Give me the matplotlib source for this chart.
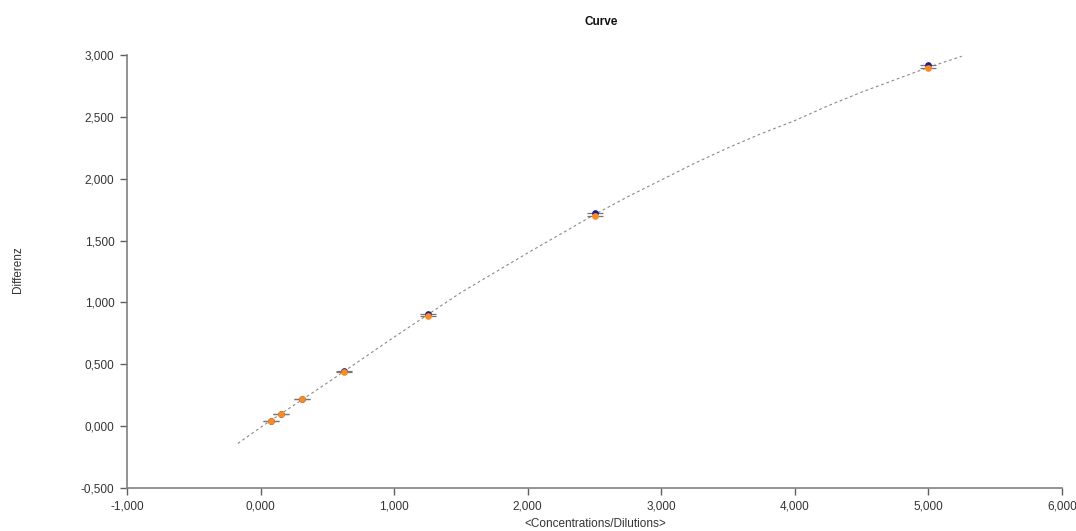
import matplotlib
matplotlib.use("Agg")
import matplotlib.pyplot as plt

plt.rcParams['font.family'] = ['Liberation Sans', 'DejaVu Sans']

# Data
conc = [0.078, 0.156, 0.3125, 0.625, 1.25, 2.5, 5.0]
rep_blue = [0.045, 0.100, 0.220, 0.445, 0.910, 1.726, 2.920]
rep_orange = [0.043, 0.098, 0.218, 0.440, 0.890, 1.700, 2.897]

curve_x = [-0.17, 0.0, 0.25, 0.5, 0.75, 1.0, 1.25, 1.5, 1.75, 2.0, 2.25, 2.5, 2.75,
           3.0, 3.25, 3.5, 3.75, 4.0, 4.25, 4.5, 4.75, 5.0, 5.25]
curve_y = [-0.14, -0.01, 0.17, 0.35, 0.535, 0.72, 0.90, 1.08, 1.24, 1.40, 1.555, 1.71, 1.855,
           1.99, 2.125, 2.25, 2.365, 2.47, 2.59, 2.70, 2.80, 2.90, 2.99]

xticks = [-1.0, 0.0, 1.0, 2.0, 3.0, 4.0, 5.0, 6.0]
yticks = [-0.5, 0.0, 0.5, 1.0, 1.5, 2.0, 2.5, 3.0]

def fmt(v):
    return f"{v:.3f}".replace(".", ",")

fig = plt.figure(figsize=(10.76, 5.31), dpi=100)
ax = fig.add_axes([127/1076, 1 - 488/531, (1062 - 127)/1076, (488 - 55)/531])

ax.plot(curve_x, curve_y, color='#8a8a8a', lw=0.8, ls=(0, (2.5, 2.5)), zorder=1)

lo = [min(a, b) for a, b in zip(rep_blue, rep_orange)]
hi = [max(a, b) for a, b in zip(rep_blue, rep_orange)]
mid = [(a + b) / 2 for a, b in zip(lo, hi)]
yerr = [[m - l for m, l in zip(mid, lo)], [h - m for m, h in zip(mid, hi)]]
ax.errorbar(conc, mid, yerr=yerr, fmt='none', ecolor='#777777', elinewidth=0.8,
            capsize=6, capthick=0.9, zorder=2)

ax.plot(conc, rep_blue, 'o', color='#1c1c8c', ms=3.8, mec='#1c1c8c', zorder=3)
ax.plot(conc, rep_orange, 'o', color='#ff8c1a', ms=3.8, mec='#ff8c1a', zorder=4)

ax.set_xlim(-1.0, 6.0)
ax.set_ylim(-0.5, 3.0)
ax.set_xticks(xticks)
ax.set_yticks(yticks)
ax.set_xticklabels([fmt(v) for v in xticks])
ax.set_yticklabels([fmt(v) for v in yticks])

for s in ['top', 'right']:
    ax.spines[s].set_visible(False)
for s in ['left', 'bottom']:
    ax.spines[s].set_color('#808080')
    ax.spines[s].set_linewidth(1.2)
ax.tick_params(axis='both', direction='out', length=5, width=1, color='#606060',
               labelsize=8.5, labelcolor='#333333', pad=4)

fig.text(601/1076, 1 - 22/531, 'Curve', ha='center', va='center',
         fontsize=8.5, fontweight='bold', color='#111111')
fig.text(18/1076, 1 - 270/531, 'Differenz', rotation=90, ha='center', va='center',
         fontsize=8.5, color='#333333')
fig.text(595/1076, 1 - 524/531, '<Concentrations/Dilutions>', ha='center', va='center',
         fontsize=8.5, color='#333333')

fig.savefig('out.png', dpi=100)
